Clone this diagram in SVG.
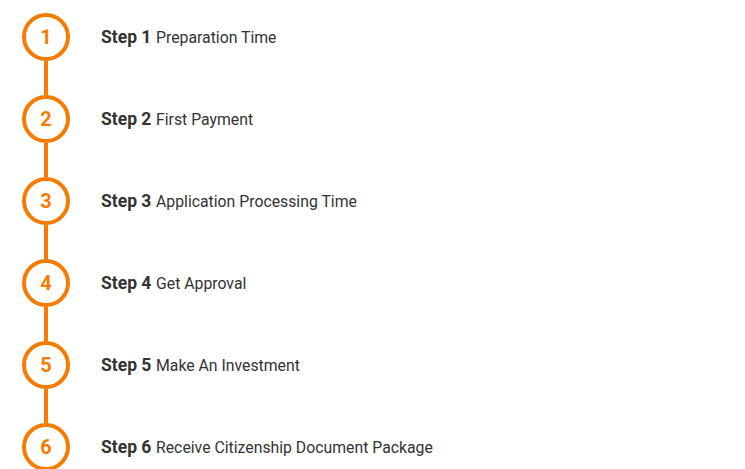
<svg xmlns="http://www.w3.org/2000/svg" width="745" height="469" viewBox="0 0 745 469">
<style>
.ring{fill:#fff;stroke:#F57C00;stroke-width:4}
.num{font-family:Roboto,"Liberation Sans",sans-serif;font-weight:700;font-size:20px;fill:#F57C00;text-anchor:middle}
.lbl{font-family:Roboto,"Liberation Sans",sans-serif;font-size:15.8px;fill:#333}
.b{font-family:Roboto,"Liberation Sans",sans-serif;font-weight:700;font-size:17.5px;fill:#333}
.conn{stroke:#F57C00;stroke-width:4}
</style>
<rect width="745" height="469" fill="#fff"/>
<g id="connectors">
<line class="conn" x1="46" y1="61" x2="46" y2="95"/>
<line class="conn" x1="46" y1="143" x2="46" y2="177"/>
<line class="conn" x1="46" y1="225" x2="46" y2="259"/>
<line class="conn" x1="46" y1="307" x2="46" y2="341"/>
<line class="conn" x1="46" y1="389" x2="46" y2="423"/>
</g>
<g id="step1"><circle class="ring" cx="46" cy="37" r="22"/><text class="num" x="46" y="44">1</text><text class="b" x="101" y="43">Step 1</text><text class="lbl" x="156" y="43">Preparation Time</text></g>
<g id="step2"><circle class="ring" cx="46" cy="119" r="22"/><text class="num" x="46" y="126">2</text><text class="b" x="101" y="125">Step 2</text><text class="lbl" x="156" y="125">First Payment</text></g>
<g id="step3"><circle class="ring" cx="46" cy="201" r="22"/><text class="num" x="46" y="208">3</text><text class="b" x="101" y="207">Step 3</text><text class="lbl" x="156" y="207">Application Processing Time</text></g>
<g id="step4"><circle class="ring" cx="46" cy="283" r="22"/><text class="num" x="46" y="290">4</text><text class="b" x="101" y="289">Step 4</text><text class="lbl" x="156" y="289">Get Approval</text></g>
<g id="step5"><circle class="ring" cx="46" cy="365" r="22"/><text class="num" x="46" y="372">5</text><text class="b" x="101" y="371">Step 5</text><text class="lbl" x="156" y="371">Make An Investment</text></g>
<g id="step6"><circle class="ring" cx="46" cy="447" r="22"/><text class="num" x="46" y="454">6</text><text class="b" x="101" y="453">Step 6</text><text class="lbl" x="156" y="453">Receive Citizenship Document Package</text></g>
</svg>
